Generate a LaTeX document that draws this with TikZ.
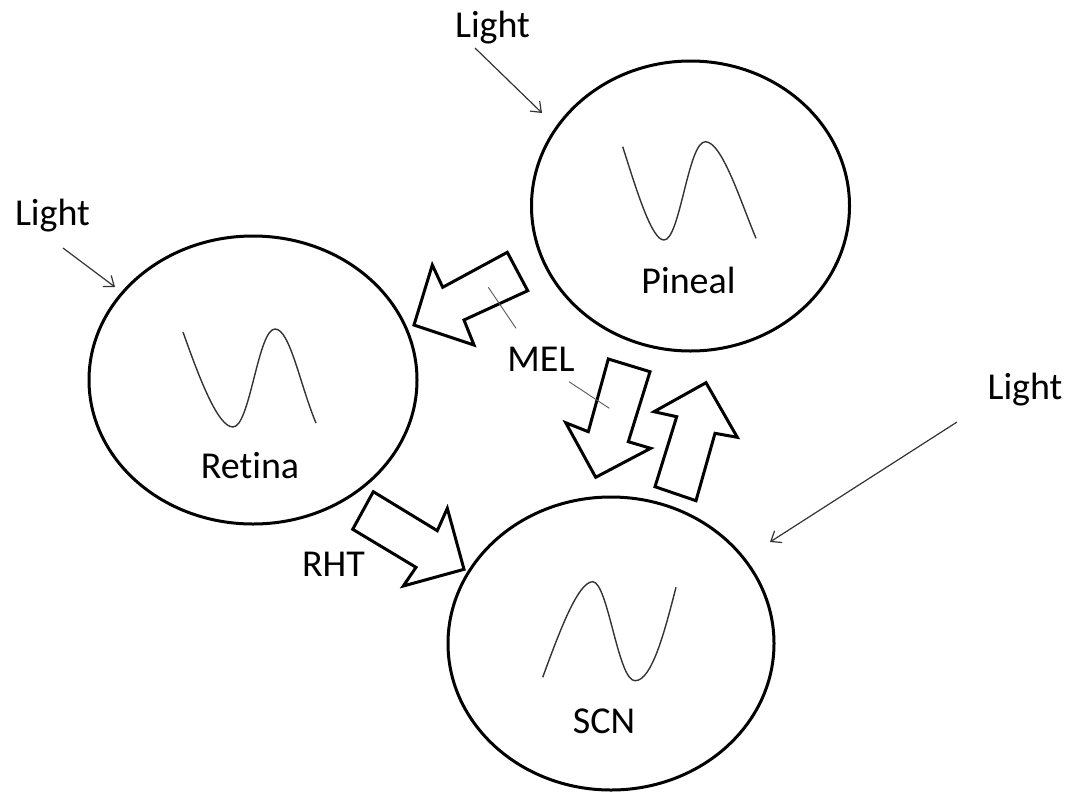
\documentclass[tikz,border=0pt]{standalone}
\usepackage{fontspec}
\setmainfont[Ligatures=NoCommon]{Carlito}
\usetikzlibrary{shapes.geometric,arrows.meta}
\tikzset{
	organ/.style={draw, ellipse, line width=3pt, inner sep=0pt},
	lbl/.style={inner sep=0pt, anchor=base, font=\fontsize{38}{40}\selectfont},
	wave/.style={line width=1.4pt, color=black!80},
	lightray/.style={line width=1.2pt, color=black!80, -{Straight Barb[length=9pt,width=14pt]}},
	blockarrow/.style={line width=3pt, line join=miter, fill=white},
	leader/.style={line width=0.9pt, color=black!65}
}

\begin{document}
\begin{tikzpicture}[x=1pt, y=-1pt]
		%%%%% START %%%%%
		\useasboundingbox (0, 0) rectangle (1075, 795);
		
		% the three oscillators
		\node[organ, minimum width=318pt, minimum height=290pt] (pineal) at (690.5, 206) {};
		\node[organ, minimum width=328pt, minimum height=288pt] (retina) at (253, 380) {};
		\node[organ, minimum width=326pt, minimum height=293pt] (scn) at (611, 643.5) {};
		
		\node[lbl] (pinealtxt) at (688.5, 293) {Pineal};
		\node[lbl] (retinatxt) at (250, 478) {Retina};
		\node[lbl] (scntxt) at (604, 733) {SCN};
		
		% rhythms
		\draw[wave] (622.7, 146.7) .. controls (638, 195) and (652, 240) .. (664, 240)
			.. controls (680, 240) and (688, 142) .. (705.3, 141.7)
			.. controls (722, 142) and (740, 200) .. (756, 238.3);
		\draw[wave] (183, 332) .. controls (200, 380) and (218, 427) .. (233, 427)
			.. controls (250, 427) and (258, 329) .. (275, 329)
			.. controls (290, 329) and (300, 385) .. (316, 423);
		\draw[wave] (542.7, 677.3) .. controls (560, 630) and (578, 582) .. (592.7, 581.7)
			.. controls (608, 582) and (618, 681) .. (635, 680.7)
			.. controls (652, 681) and (665, 630) .. (676, 587.3);
		
		% light inputs
		\node[lbl] (lighttop) at (492.5, 37) {Light};
		\node[lbl] (lightleft) at (52.5, 225) {Light};
		\node[lbl] (lightright) at (1025, 399) {Light};
		\coordinate (raytop) at (475, 48);
		\coordinate (rayleft) at (63, 248);
		\coordinate (rayright) at (957, 422);
		\coordinate (hittop) at (542, 113);
		\coordinate (hitleft) at (115, 287);
		\coordinate (hitright) at (770, 542);
		\draw[lightray] (raytop) -- (hittop);
		\draw[lightray] (rayleft) -- (hitleft);
		\draw[lightray] (rayright) -- (hitright);
		
		% block arrows
		\draw[blockarrow] (414, 325) -- (432.3, 265) -- (442.7, 287.3) -- (507.3, 252.3)
			-- (527.7, 290.7) -- (464, 320) -- (474, 345) -- cycle;
		\draw[blockarrow] (608.3, 359) -- (650, 371.7) -- (628.3, 441.7) -- (650.7, 448.3)
			-- (595.7, 477.3) -- (565.7, 422.7) -- (588.3, 431.7) -- cycle;
		\draw[blockarrow] (706, 382.7) -- (737.3, 437.3) -- (715, 433.3) -- (696, 500.7)
			-- (655, 486.7) -- (676.7, 416.7) -- (654, 411.7) -- cycle;
		\draw[blockarrow] (373.3, 491.7) -- (437.3, 530.7) -- (447.3, 508.3) -- (464, 569.3)
			-- (403.3, 586) -- (416, 567.3) -- (352.7, 529.3) -- cycle;
		
		% labels of the pathways
		\node[lbl] (mel) at (541, 371.7) {MEL};
		\node[lbl] (rht) at (333.5, 576.7) {RHT};
		\coordinate (melup) at (488.3, 287.3);
		\coordinate (meluptip) at (516, 328.3);
		\coordinate (meldown) at (569, 381.7);
		\coordinate (meldowntip) at (609.3, 408.3);
		\draw[leader] (melup) -- (meluptip);
		\draw[leader] (meldown) -- (meldowntip);
		
		%%%%% END %%%%%
	\end{tikzpicture}
\end{document}
